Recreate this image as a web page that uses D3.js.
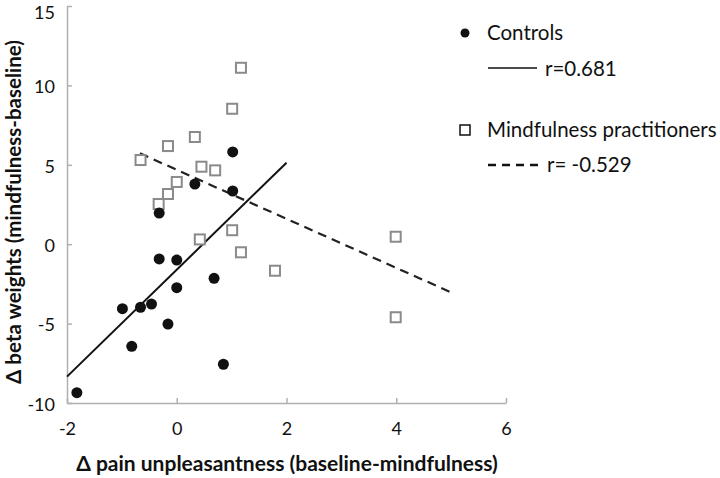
<!DOCTYPE html>
<html><head><meta charset="utf-8">
<script src="https://cdn.jsdelivr.net/npm/d3@7"></script>
<style>body{margin:0;background:#fff}svg{display:block}text{font-family:Lato,"Open Sans",sans-serif}</style>
</head><body>
<svg id="c" width="720" height="478"></svg>
<script>
const controlsX = [1.02, 0.33, 1.02, -0.32, -0.32, 0.0, 0.0, 0.68, -0.99, -0.66, -0.46, -0.16, -0.82, 0.85, -1.82];
const controlsY = [5.81, 3.79, 3.35, 1.96, -0.93, -1.0, -2.74, -2.15, -4.06, -3.97, -3.77, -5.03, -6.43, -7.56, -9.35];
const mindX = [1.17, 1.01, 0.33, -0.16, -0.66, 0.45, 0.70, 0.0, -0.16, -0.33, 1.01, 0.42, 1.17, 1.79, 3.99, 3.99];
const mindY = [11.11, 8.53, 6.75, 6.18, 5.30, 4.88, 4.65, 3.92, 3.16, 2.53, 0.88, 0.30, -0.51, -1.67, 0.47, -4.6];
const controlsFitX = [-2, 2.0];
const controlsFitY = [-8.34, 5.13];
const mindFitX = [-0.67, 5.01];
const mindFitY = [5.72, -3.05];
const xTicks = [-2, 0, 2, 4, 6];
const yTicks = [-10, -5, 0, 5, 10, 15];
const legendLabels = ["Controls", "r=0.681", "Mindfulness practitioners", "r= -0.529"];
const xTitle = "Δ pain unpleasantness (baseline-mindfulness)";
const yTitle = "Δ beta weights (mindfulness-baseline)";

const svg = d3.select("#c");
const x = d3.scaleLinear().domain([-2, 6]).range([67, 506]);
const y = d3.scaleLinear().domain([-10, 15]).range([403, 6]);
const axisCol = "#b0b0b0";
const fmt = d => String(d);

const xa = svg.append("g").attr("transform", `translate(0,${y(-10)})`)
  .call(d3.axisBottom(x).tickValues(xTicks).tickSizeInner(-5).tickSizeOuter(0).tickPadding(19).tickFormat(fmt));
const ya = svg.append("g").attr("transform", `translate(${x(-2)},0)`)
  .call(d3.axisLeft(y).tickValues(yTicks).tickSizeInner(-5).tickSizeOuter(0).tickPadding(12).tickFormat(fmt));
[xa, ya].forEach(a => {
  a.select(".domain").attr("stroke", axisCol).attr("stroke-width", 1.5);
  a.selectAll(".tick line").attr("stroke", axisCol).attr("stroke-width", 1.5);
  a.selectAll(".tick text").attr("font-size", 18).attr("fill", "#111").style("font-family", "Lato");
});
ya.selectAll(".tick text").attr("dy", d => d === 15 ? "0.7em" : "0.4em");

// fit lines
const line = d3.line().x(d => x(d[0])).y(d => y(d[1]));
svg.append("path").attr("d", line(d3.zip(controlsFitX, controlsFitY)))
  .attr("stroke", "#111").attr("stroke-width", 2).attr("fill", "none");
svg.append("path").attr("d", line(d3.zip(mindFitX, mindFitY)))
  .attr("stroke", "#222").attr("stroke-width", 2.2).attr("stroke-dasharray", "9,6").attr("fill", "none");

// squares
svg.append("g").selectAll("rect").data(d3.zip(mindX, mindY)).join("rect")
  .attr("x", d => x(d[0]) - 5).attr("y", d => y(d[1]) - 5)
  .attr("width", 10).attr("height", 10)
  .attr("fill", "#fff").attr("stroke", "#8a8a8a").attr("stroke-width", 2);
// circles
svg.append("g").selectAll("circle").data(d3.zip(controlsX, controlsY)).join("circle")
  .attr("cx", d => x(d[0])).attr("cy", d => y(d[1])).attr("r", 5.5).attr("fill", "#111");

// legend
const lg = svg.append("g");
const lfs = 20.5;
lg.append("circle").attr("cx", 465).attr("cy", 33).attr("r", 4.5).attr("fill", "#111");
lg.append("text").attr("x", 487).attr("y", 40).attr("font-size", lfs).attr("fill", "#111").text(legendLabels[0]);
lg.append("line").attr("x1", 488).attr("x2", 537).attr("y1", 68).attr("y2", 68).attr("stroke", "#111").attr("stroke-width", 1.5);
lg.append("text").attr("x", 545).attr("y", 76).attr("font-size", lfs).attr("fill", "#111").text(legendLabels[1]);
lg.append("rect").attr("x", 460).attr("y", 125).attr("width", 10).attr("height", 10).attr("fill", "#fff").attr("stroke", "#111").attr("stroke-width", 1.5);
lg.append("text").attr("x", 487).attr("y", 137).attr("font-size", lfs).attr("fill", "#111").text(legendLabels[2]);
lg.append("line").attr("x1", 488).attr("x2", 539).attr("y1", 165).attr("y2", 165).attr("stroke", "#111").attr("stroke-width", 2.5).attr("stroke-dasharray", "8,6");
lg.append("text").attr("x", 547).attr("y", 172).attr("font-size", lfs).attr("fill", "#111").text(legendLabels[3]);

// titles
svg.append("text").attr("x", 287).attr("y", 471).attr("text-anchor", "middle")
  .attr("font-size", 21).attr("font-weight", "bold").attr("fill", "#111").text(xTitle);
svg.append("text").attr("transform", "translate(21,212) rotate(-90)").attr("text-anchor", "middle")
  .attr("font-size", 20.5).attr("font-weight", "bold").attr("fill", "#111").text(yTitle);
</script>
</body></html>
